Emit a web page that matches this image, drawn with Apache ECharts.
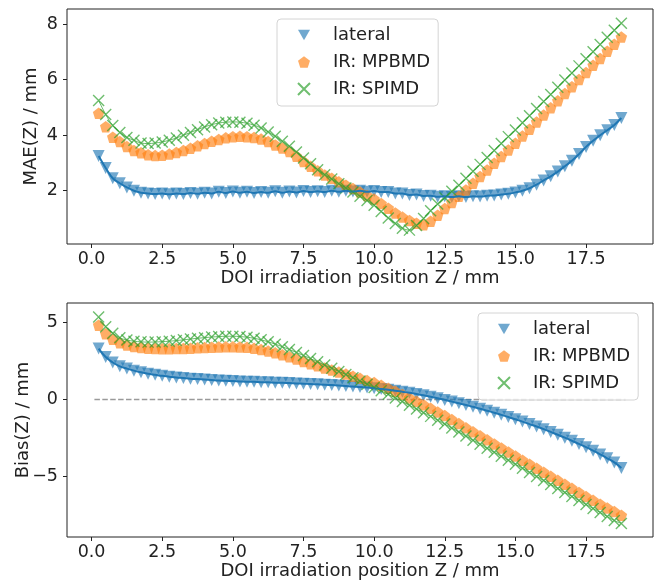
<!DOCTYPE html>
<html><head><meta charset="utf-8">
<script src="https://cdn.jsdelivr.net/npm/echarts@6/dist/echarts.min.js"></script>
<style>html,body{margin:0;padding:0;background:#fff}#c{width:656px;height:587px}</style>
</head><body><div id="c"></div>
<script>
// DOI irradiation positions (mm)
const zValues = [
  0.25, 0.5, 0.75, 1.0, 1.25, 1.5, 1.75, 2.0, 2.25, 2.5,
  2.75, 3.0, 3.25, 3.5, 3.75, 4.0, 4.25, 4.5, 4.75, 5.0,
  5.25, 5.5, 5.75, 6.0, 6.25, 6.5, 6.75, 7.0, 7.25, 7.5,
  7.75, 8.0, 8.25, 8.5, 8.75, 9.0, 9.25, 9.5, 9.75, 10.0,
  10.25, 10.5, 10.75, 11.0, 11.25, 11.5, 11.75, 12.0, 12.25, 12.5,
  12.75, 13.0, 13.25, 13.5, 13.75, 14.0, 14.25, 14.5, 14.75, 15.0,
  15.25, 15.5, 15.75, 16.0, 16.25, 16.5, 16.75, 17.0, 17.25, 17.5,
  17.75, 18.0, 18.25, 18.5, 18.75];

// MAE(Z) / mm
const maeLateral = [
  3.25, 2.82, 2.45, 2.27, 2.12, 2.0, 1.93, 1.9, 1.88, 1.9,
  1.87, 1.9, 1.88, 1.92, 1.89, 1.93, 1.9, 1.96, 1.92, 1.97,
  1.93, 1.96, 1.92, 1.95, 1.93, 1.98, 1.93, 1.97, 1.94, 1.99,
  1.95, 1.98, 1.95, 2.0, 1.96, 2.0, 1.97, 2.0, 1.96, 1.99,
  1.95, 1.95, 1.9, 1.9, 1.85, 1.86, 1.81, 1.82, 1.78, 1.8,
  1.77, 1.8, 1.77, 1.8, 1.79, 1.82, 1.83, 1.86, 1.89, 1.94,
  2.0, 2.09, 2.22, 2.37, 2.52, 2.69, 2.88, 3.08, 3.32, 3.58,
  3.8, 4.0, 4.18, 4.37, 4.62];
const maeMPBMD = [
  4.79, 4.31, 3.93, 3.77, 3.59, 3.45, 3.37, 3.3, 3.27, 3.28,
  3.32, 3.38, 3.45, 3.53, 3.62, 3.7, 3.78, 3.85, 3.91, 3.95,
  3.96, 3.95, 3.92, 3.86, 3.77, 3.65, 3.54, 3.41, 3.24, 3.05,
  2.88, 2.72, 2.57, 2.45, 2.32, 2.2, 2.08, 1.95, 1.83, 1.7,
  1.54, 1.37, 1.2, 1.05, 0.93, 0.83, 0.77, 0.9, 1.12, 1.36,
  1.58, 1.8, 2.03, 2.27, 2.51, 2.75, 2.99, 3.23, 3.47, 3.71,
  3.97, 4.22, 4.48, 4.73, 4.99, 5.24, 5.5, 5.75, 6.01, 6.26,
  6.52, 6.77, 7.03, 7.28, 7.54];
const maeSPIMD = [
  5.25, 4.75, 4.35, 4.1, 3.92, 3.82, 3.72, 3.7, 3.72, 3.76,
  3.82, 3.9, 4.0, 4.1, 4.2, 4.3, 4.38, 4.44, 4.47, 4.48,
  4.47, 4.43, 4.36, 4.26, 4.12, 3.96, 3.78, 3.6, 3.4, 3.18,
  2.97, 2.76, 2.58, 2.42, 2.25, 2.1, 1.95, 1.8, 1.65, 1.48,
  1.25, 1.02, 0.82, 0.65, 0.58, 0.75, 1.0, 1.28, 1.52, 1.75,
  1.98, 2.2, 2.45, 2.7, 2.95, 3.2, 3.45, 3.7, 3.95, 4.19,
  4.45, 4.7, 4.96, 5.22, 5.47, 5.73, 5.99, 6.24, 6.5, 6.76,
  7.01, 7.27, 7.53, 7.78, 8.04];

// Bias(Z) / mm
const biasLateral = [
  3.3, 2.75, 2.4, 2.15, 2.0, 1.87, 1.76, 1.67, 1.6, 1.53,
  1.48, 1.43, 1.39, 1.35, 1.32, 1.29, 1.26, 1.23, 1.21, 1.19,
  1.17, 1.15, 1.14, 1.12, 1.11, 1.09, 1.08, 1.06, 1.04, 1.02,
  1.0, 0.98, 0.96, 0.93, 0.9, 0.87, 0.84, 0.8, 0.77, 0.73,
  0.68, 0.63, 0.57, 0.5, 0.43, 0.35, 0.27, 0.18, 0.08, -0.03,
  -0.14, -0.25, -0.36, -0.48, -0.6, -0.73, -0.86, -1.0, -1.14, -1.29,
  -1.44, -1.6, -1.76, -1.93, -2.11, -2.29, -2.48, -2.68, -2.89, -3.1,
  -3.33, -3.57, -3.82, -4.09, -4.45];
const biasMPBMD = [
  4.82, 4.27, 3.9, 3.68, 3.53, 3.43, 3.37, 3.33, 3.3, 3.29,
  3.29, 3.3, 3.31, 3.33, 3.35, 3.37, 3.39, 3.41, 3.42, 3.42,
  3.41, 3.38, 3.32, 3.24, 3.14, 3.03, 2.9, 2.77, 2.62, 2.47,
  2.32, 2.18, 2.04, 1.91, 1.78, 1.65, 1.51, 1.37, 1.23, 1.1,
  0.92, 0.73, 0.53, 0.32, 0.1, -0.12, -0.35, -0.58, -0.81, -1.05,
  -1.31, -1.57, -1.84, -2.1, -2.36, -2.62, -2.89, -3.15, -3.41, -3.67,
  -3.94, -4.2, -4.46, -4.72, -4.99, -5.25, -5.51, -5.77, -6.04, -6.3,
  -6.55, -6.8, -7.04, -7.28, -7.52];
const biasSPIMD = [
  5.35, 4.72, 4.3, 4.0, 3.86, 3.78, 3.74, 3.72, 3.73, 3.75,
  3.78, 3.82, 3.87, 3.92, 3.97, 4.01, 4.05, 4.08, 4.1, 4.1,
  4.08, 4.04, 3.97, 3.87, 3.74, 3.59, 3.42, 3.24, 3.05, 2.85,
  2.65, 2.44, 2.23, 2.03, 1.82, 1.62, 1.41, 1.2, 0.99, 0.78,
  0.56, 0.33, 0.1, -0.14, -0.38, -0.62, -0.86, -1.1, -1.35, -1.6,
  -1.86, -2.12, -2.38, -2.65, -2.91, -3.17, -3.43, -3.69, -3.95, -4.21,
  -4.47, -4.74, -5.0, -5.26, -5.52, -5.78, -6.04, -6.3, -6.56, -6.82,
  -7.08, -7.34, -7.6, -7.86, -8.05];

// zero reference line (bias plot)
const zeroLineZ = [0.1, 18.9];
const zeroLineBias = [0, 0];

const seriesNames = ['lateral', 'IR: MPBMD', 'IR: SPIMD'];
const xTickValues = [0, 2.5, 5, 7.5, 10, 12.5, 15, 17.5];
const maeTickValues = [2, 4, 6, 8];
const biasTickValues = [-5, 0, 5];
const xAxisTitle = 'DOI irradiation position Z / mm';
const maeAxisTitle = 'MAE(Z) / mm';
const biasAxisTitle = 'Bias(Z) / mm';

const FONT = 'DejaVu Sans';
const TXT = '#222';
const pair = (xs, ys) => xs.map((x, i) => [x, ys[i]]);
const fmtNum = v => (v < 0 ? '\u2212' + Math.abs(v) : String(v));

const TRI_DOWN = 'path://M0,0 L10,0 L5,8.66 Z';
const PENT = 'path://M50,0 L97.55,34.55 L79.39,90.45 L20.61,90.45 L2.45,34.55 Z';
const XMARK = 'path://M0,0 L10,10 M10,0 L0,10';

function xAxisCfg(gi) {
  return {
    type: 'value', gridIndex: gi, min: -0.87, max: 19.87,
    name: xAxisTitle, nameLocation: 'middle', nameGap: 25, nameMoveOverlap: false,
    nameTextStyle: {fontSize: 18, color: TXT, fontFamily: FONT},
    axisLine: {show: false, onZero: false}, splitLine: {show: false},
    axisTick: {show: true, length: 4, lineStyle: {color: TXT, width: 1}, customValues: xTickValues},
    axisLabel: {customValues: xTickValues, formatter: v => v.toFixed(1), fontSize: 17.5, color: TXT, fontFamily: FONT, margin: 6}
  };
}
function yAxisCfg(gi, min, max, ticks, title, gap) {
  return {
    type: 'value', gridIndex: gi, min, max,
    name: title, nameLocation: 'middle', nameGap: gap, nameRotate: 90, nameMoveOverlap: false,
    nameTextStyle: {fontSize: 18, color: TXT, fontFamily: FONT},
    axisLine: {show: false, onZero: false}, splitLine: {show: false},
    axisTick: {show: true, length: 4, lineStyle: {color: TXT, width: 1}, customValues: ticks},
    axisLabel: {customValues: ticks, formatter: fmtNum, fontSize: 17.5, color: TXT, fontFamily: FONT, margin: 9}
  };
}
function legendCfg(left, top, padding) {
  return {
    data: [{name: seriesNames[0], icon: TRI_DOWN}, {name: seriesNames[1]}, {name: seriesNames[2]}],
    orient: 'vertical', left, top, padding,
    itemWidth: 12, itemHeight: 12, itemGap: 7, selectedMode: false,
    backgroundColor: 'rgba(255,255,255,0.8)', borderColor: '#d4d4d4', borderWidth: 1, borderRadius: 4,
    textStyle: {fontSize: 18, color: TXT, fontFamily: FONT, lineHeight: 20, padding: [0, 0, 0, 18]}
  };
}

const BLUE = 'rgba(31,119,180,0.8)', ORANGE = 'rgba(255,127,14,0.8)', GREEN = 'rgba(44,160,44,0.85)';

function groupSeries(gi, lat, mp, sp) {
  return [
    {name: seriesNames[0], type: 'scatter', xAxisIndex: gi, yAxisIndex: gi, data: pair(zValues, lat),
     symbol: 'triangle', symbolRotate: 180, symbolSize: 12, itemStyle: {color: BLUE}, emphasis: {disabled: true}},
    {name: seriesNames[1], type: 'scatter', xAxisIndex: gi, yAxisIndex: gi, data: pair(zValues, mp),
     symbol: PENT, symbolSize: 11.5, itemStyle: {color: ORANGE}, emphasis: {disabled: true}},
    {name: seriesNames[2], type: 'scatter', xAxisIndex: gi, yAxisIndex: gi, data: pair(zValues, sp),
     symbol: XMARK, symbolSize: 11, itemStyle: {color: 'rgba(0,0,0,0)', borderColor: GREEN, borderWidth: 1.4}, emphasis: {disabled: true}},
    {type: 'line', xAxisIndex: gi, yAxisIndex: gi, data: pair(zValues, lat), showSymbol: false, smooth: 0.4,
     lineStyle: {color: 'rgb(31,119,180)', width: 2}, silent: true, z: 3},
    {type: 'line', xAxisIndex: gi, yAxisIndex: gi, data: pair(zValues, sp), showSymbol: false, smooth: 0.4,
     lineStyle: {color: 'rgba(44,160,44,0.7)', width: 1}, silent: true, z: 3}
  ];
}

const chart = echarts.init(document.getElementById('c'), null, {renderer: 'canvas'});
chart.setOption({
  backgroundColor: '#fff',
  animation: false,
  grid: [
    {left: 67, right: 3, top: 9, height: 235, show: true, borderColor: TXT, borderWidth: 1, backgroundColor: 'transparent'},
    {left: 67, right: 3, top: 303, height: 234, show: true, borderColor: TXT, borderWidth: 1, backgroundColor: 'transparent'}
  ],
  xAxis: [xAxisCfg(0), xAxisCfg(1)],
  yAxis: [
    yAxisCfg(0, 0.08, 8.55, maeTickValues, maeAxisTitle, 27),
    yAxisCfg(1, -8.93, 6.26, biasTickValues, biasAxisTitle, 35)
  ],
  legend: [legendCfg(277, 19, [6, 8, 7, 20]), legendCfg(478, 313, [6, 8, 7, 19])],
  series: [
    {type: 'line', xAxisIndex: 1, yAxisIndex: 1, data: pair(zeroLineZ, zeroLineBias), showSymbol: false,
     lineStyle: {color: '#9a9a9a', width: 1.5, type: [5.5, 2.4]}, silent: true, z: 1},
    ...groupSeries(0, maeLateral, maeMPBMD, maeSPIMD),
    ...groupSeries(1, biasLateral, biasMPBMD, biasSPIMD)
  ]
});
</script>
</body></html>
